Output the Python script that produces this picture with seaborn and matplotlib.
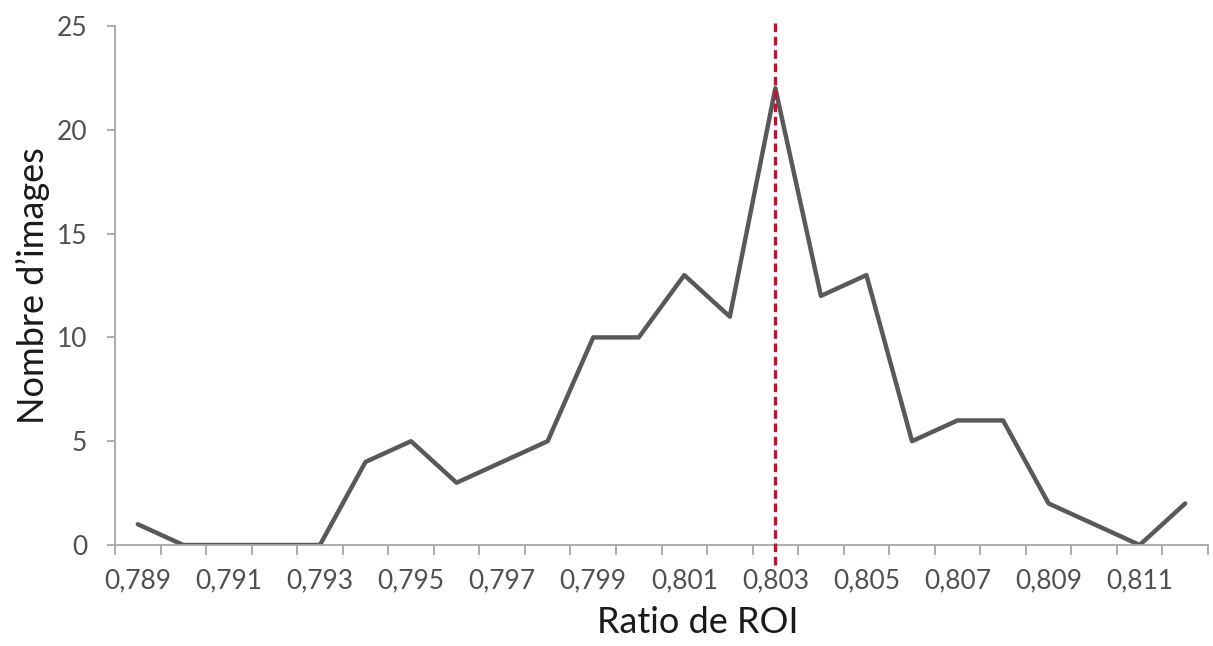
import numpy as np
import pandas as pd
import matplotlib
matplotlib.use("Agg")
import matplotlib.pyplot as plt
import seaborn as sns

# ─── DATA ─────────────────────────────────────────────────────────────────────
ratios = ["0,789", "0,790", "0,791", "0,792", "0,793", "0,794", "0,795", "0,796",
          "0,797", "0,798", "0,799", "0,800", "0,801", "0,802", "0,803", "0,804",
          "0,805", "0,806", "0,807", "0,808", "0,809", "0,810", "0,811", "0,812"]
counts = [1, 0, 0, 0, 0, 4, 5, 3, 4, 5, 10, 10, 13, 11, 22, 12, 13, 5, 6, 6, 2, 1, 0, 2]
marker_ratio = "0,803"
y_ticks = [0, 5, 10, 15, 20, 25]

df = pd.DataFrame({"pos": np.arange(len(ratios)), "ratio": ratios, "count": counts})

# ─── STYLE ────────────────────────────────────────────────────────────────────
sns.set_theme(style="white")
plt.rcParams["font.family"] = ["Lato", "DejaVu Sans"]
AXIS_GRAY = "#a6a6a6"
LINE_GRAY = "#595959"
TEXT_GRAY = "#505050"

fig = plt.figure(figsize=(12.13, 6.46), dpi=100)
ax = fig.add_axes([115 / 1213, 1 - 545 / 646, (1208 - 115) / 1213, (545 - 26) / 646])

sns.lineplot(data=df, x="pos", y="count", ax=ax, color=LINE_GRAY, linewidth=3.2)

# red dashed reference line, running a bit past the plot area
xm = ratios.index(marker_ratio)
ax.plot([xm, xm], [-0.95, 25.3], color="#c8102e", linestyle=(0, (2.6, 1.4)),
        linewidth=2.4, clip_on=False, zorder=5)

ax.set_xlim(-0.5, len(ratios) - 0.5)
ax.set_ylim(0, 25)
ax.set_yticks(y_ticks)
ax.set_xticks(df["pos"][::2])
ax.set_xticklabels(df["ratio"][::2])
ax.set_xticks(np.arange(len(ratios) + 1) - 0.5, minor=True)

for side in ["top", "right"]:
    ax.spines[side].set_visible(False)
for side in ["left", "bottom"]:
    ax.spines[side].set_color(AXIS_GRAY)
    ax.spines[side].set_linewidth(1.3)

ax.tick_params(axis="x", which="major", length=0, pad=17, labelsize=19, labelcolor=TEXT_GRAY)
ax.tick_params(axis="x", which="minor", length=7, width=1.3, color=AXIS_GRAY, direction="out",
               bottom=True)
ax.tick_params(axis="y", length=6, width=1.3, color=AXIS_GRAY, direction="out", left=True,
               pad=14, labelsize=19, labelcolor=TEXT_GRAY)

ax.set_xlabel("Ratio de ROI", fontsize=26, color="#1a1a1a", labelpad=10)
ax.set_ylabel("Nombre d\u2019images", fontsize=26, color="#1a1a1a", labelpad=5)
ax.xaxis.set_label_coords(0.533, -0.118)

fig.savefig("out.png", dpi=100, facecolor="white")
